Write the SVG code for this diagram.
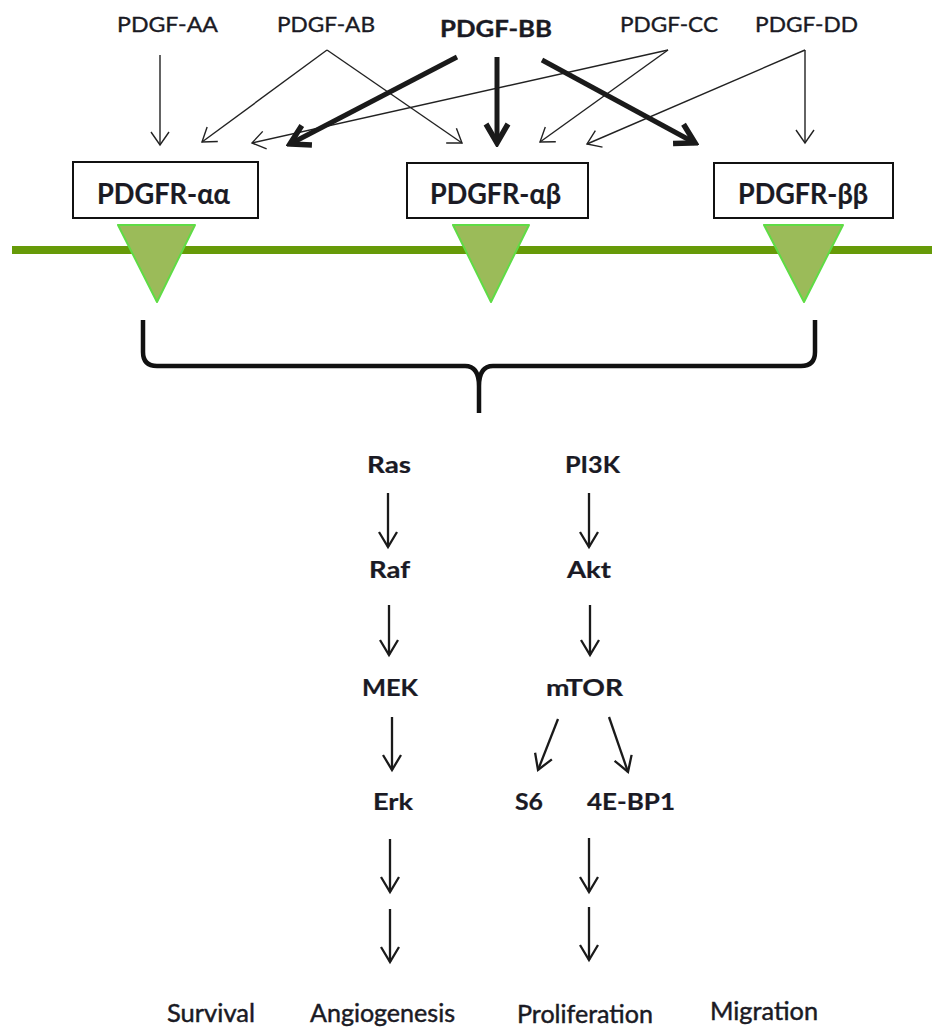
<svg xmlns="http://www.w3.org/2000/svg" width="932" height="1027" viewBox="0 0 932 1027">
  <style>
    .lbl { font-family: Lato, "Open Sans", "Liberation Sans", sans-serif; fill: #1a1a24; stroke: #1a1a24; stroke-width: 0.35; }
    .ligand { font-size: 21px; }
    .ligand-strong { font-size: 22px; font-weight: bold; }
    .receptor { font-size: 28px; font-weight: bold; stroke-width: 0.2; }
    .path { font-size: 22px; font-weight: bold; stroke-width: 0.2; }
    .outcome { font-size: 25px; stroke-width: 0.45; }
    .box { fill: #ffffff; stroke: #111111; stroke-width: 2; }
    .tri { fill: #9bbb59; stroke: #5fdc45; stroke-width: 2; stroke-linejoin: round; }
    .thin { stroke: #222222; stroke-width: 1.4; fill: none; marker-end: url(#headThin); }
    .thick { stroke: #1a1a1a; stroke-width: 5; fill: none; marker-end: url(#headThick); }
    .step { stroke: #1a1a1a; stroke-width: 2.3; fill: none; marker-end: url(#headStep); }
  </style>
  <defs>
    <marker id="headThin" markerUnits="userSpaceOnUse" viewBox="-16 -11 18 22" refX="0" refY="0" markerWidth="18" markerHeight="22" orient="auto">
      <path d="M-13,-9 L0,0 L-13,9" fill="none" stroke="#222222" stroke-width="1.4"/>
    </marker>
    <marker id="headThick" markerUnits="userSpaceOnUse" viewBox="-24 -16 28 32" refX="0" refY="0" markerWidth="28" markerHeight="32" orient="auto">
      <path d="M-19,-11 L0,0 L-19,11" fill="none" stroke="#1a1a1a" stroke-width="5.5" stroke-linejoin="miter"/>
    </marker>
    <marker id="headStep" markerUnits="userSpaceOnUse" viewBox="-18 -12 21 24" refX="0" refY="0" markerWidth="21" markerHeight="24" orient="auto">
      <path d="M-15,-9 L0,0 L-15,9" fill="none" stroke="#1a1a1a" stroke-width="2.3"/>
    </marker>
  </defs>

  <rect x="0" y="0" width="932" height="1027" fill="#ffffff"/>

  <!-- ligands -->
  <g id="ligand-aa"><text class="lbl ligand" x="117" y="32" textLength="101" lengthAdjust="spacingAndGlyphs">PDGF-AA</text></g>
  <g id="ligand-ab"><text class="lbl ligand" x="277" y="32" textLength="98" lengthAdjust="spacingAndGlyphs">PDGF-AB</text></g>
  <g id="ligand-bb"><text class="lbl ligand-strong" x="440" y="37" textLength="112" lengthAdjust="spacingAndGlyphs">PDGF-BB</text></g>
  <g id="ligand-cc"><text class="lbl ligand" x="620" y="32" textLength="98" lengthAdjust="spacingAndGlyphs">PDGF-CC</text></g>
  <g id="ligand-dd"><text class="lbl ligand" x="755" y="32" textLength="103" lengthAdjust="spacingAndGlyphs">PDGF-DD</text></g>

  <!-- membrane -->
  <g id="membrane">
    <line x1="12" y1="250" x2="932" y2="250" stroke="#669a08" stroke-width="8"/>
  </g>

  <!-- receptors -->
  <g id="receptor-aa">
    <rect class="box" x="73" y="162" width="185" height="56"/>
    <text class="lbl receptor" x="97" y="204" textLength="133" lengthAdjust="spacingAndGlyphs">PDGFR-αα</text>
    <polygon class="tri" points="118,225 195,225 157,302"/>
  </g>
  <g id="receptor-ab">
    <rect class="box" x="407" y="163" width="181" height="55"/>
    <text class="lbl receptor" x="430" y="204" textLength="131" lengthAdjust="spacingAndGlyphs">PDGFR-αβ</text>
    <polygon class="tri" points="453,225 529,225 491,302"/>
  </g>
  <g id="receptor-bb">
    <rect class="box" x="714" y="163" width="179" height="55"/>
    <text class="lbl receptor" x="738" y="204" textLength="130" lengthAdjust="spacingAndGlyphs">PDGFR-ββ</text>
    <polygon class="tri" points="764,225 843,225 804,302"/>
  </g>

  <!-- signalling nodes -->
  <g id="ras"><text class="lbl path" x="367" y="473" textLength="44" lengthAdjust="spacingAndGlyphs">Ras</text></g>
  <g id="pi3k"><text class="lbl path" x="565" y="473" textLength="55" lengthAdjust="spacingAndGlyphs">PI3K</text></g>
  <g id="raf"><text class="lbl path" x="369" y="578" textLength="41" lengthAdjust="spacingAndGlyphs">Raf</text></g>
  <g id="akt"><text class="lbl path" x="567" y="578" textLength="44" lengthAdjust="spacingAndGlyphs">Akt</text></g>
  <g id="mek"><text class="lbl path" x="362" y="696" textLength="56" lengthAdjust="spacingAndGlyphs">MEK</text></g>
  <g id="mtor"><text class="lbl path" x="546" y="696" textLength="77" lengthAdjust="spacingAndGlyphs">mTOR</text></g>
  <g id="erk"><text class="lbl path" x="373" y="810" textLength="40" lengthAdjust="spacingAndGlyphs">Erk</text></g>
  <g id="s6"><text class="lbl path" x="515" y="810" textLength="28" lengthAdjust="spacingAndGlyphs">S6</text></g>
  <g id="eif4ebp1"><text class="lbl path" x="587" y="810" textLength="88" lengthAdjust="spacingAndGlyphs">4E-BP1</text></g>

  <!-- outcomes -->
  <g id="survival"><text class="lbl outcome" x="167" y="1022" textLength="88" lengthAdjust="spacingAndGlyphs">Survival</text></g>
  <g id="angiogenesis"><text class="lbl outcome" x="310" y="1022" textLength="145" lengthAdjust="spacingAndGlyphs">Angiogenesis</text></g>
  <g id="proliferation"><text class="lbl outcome" x="517" y="1023" textLength="136" lengthAdjust="spacingAndGlyphs">Proliferation</text></g>
  <g id="migration"><text class="lbl outcome" x="710" y="1020" textLength="108" lengthAdjust="spacingAndGlyphs">Migration</text></g>

  <!-- connectors -->
  <g id="connectors">
    <!-- ligand binding -->
    <line class="thin" x1="160" y1="55" x2="160" y2="145"/>
    <line class="thin" x1="327" y1="50" x2="202" y2="142"/>
    <line class="thin" x1="327" y1="50" x2="462" y2="143"/>
    <line class="thin" x1="668" y1="50" x2="252" y2="143"/>
    <line class="thin" x1="668" y1="50" x2="540" y2="142"/>
    <line class="thin" x1="805" y1="50" x2="587" y2="144"/>
    <line class="thin" x1="805" y1="50" x2="805" y2="143"/>
    <line class="thick" x1="457" y1="57" x2="290" y2="144"/>
    <line class="thick" x1="497" y1="57" x2="497" y2="143"/>
    <line class="thick" x1="542" y1="60" x2="695" y2="143"/>

    <!-- brace gathering the receptors -->
    <path d="M143,320 V352 Q143,366 157,366 H465 Q479,366 479,386 V413 M479,386 Q479,366 493,366 H801 Q815,366 815,352 V320" fill="none" stroke="#111111" stroke-width="4.5" stroke-linejoin="round"/>

    <!-- MAPK cascade -->
    <line class="step" x1="388" y1="493" x2="388" y2="547"/>
    <line class="step" x1="389" y1="605" x2="389" y2="655"/>
    <line class="step" x1="392" y1="717" x2="392" y2="770"/>
    <line class="step" x1="390" y1="839" x2="390" y2="892"/>
    <line class="step" x1="390" y1="909" x2="390" y2="962"/>

    <!-- PI3K / mTOR cascade -->
    <line class="step" x1="589" y1="493" x2="589" y2="547"/>
    <line class="step" x1="590" y1="605" x2="590" y2="655"/>
    <line class="step" x1="558" y1="719" x2="538" y2="770"/>
    <line class="step" x1="609" y1="717" x2="628" y2="772"/>
    <line class="step" x1="589" y1="838" x2="589" y2="892"/>
    <line class="step" x1="589" y1="907" x2="589" y2="960"/>
  </g>
</svg>
